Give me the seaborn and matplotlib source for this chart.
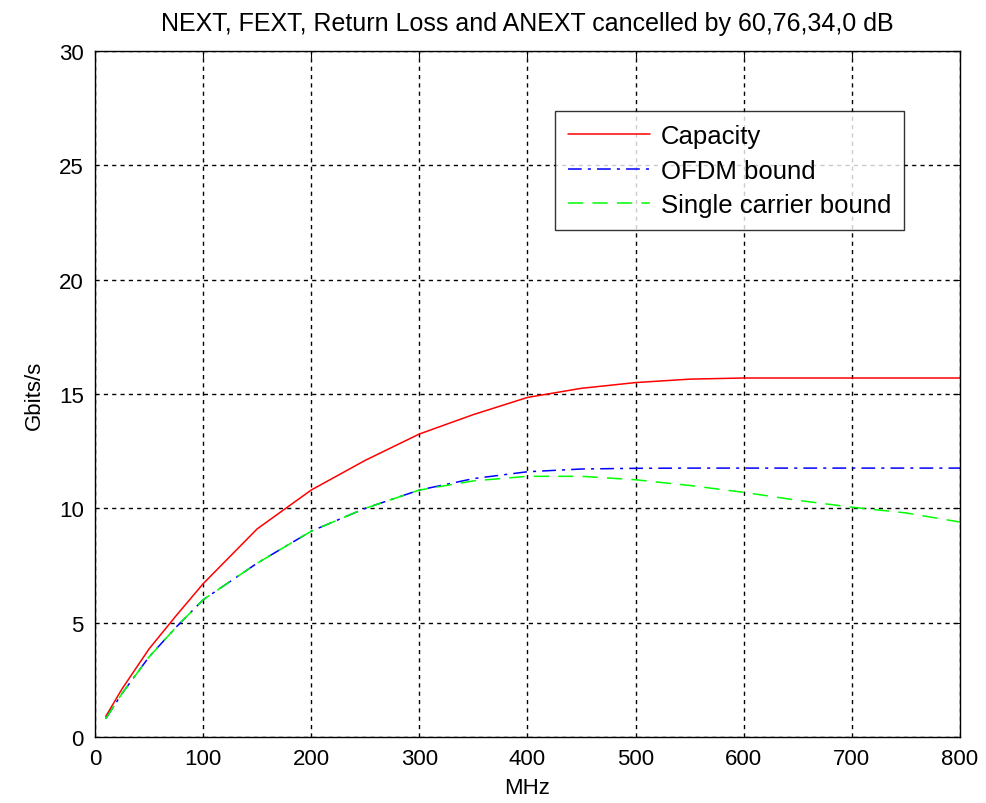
import numpy as np
import pandas as pd
import matplotlib
matplotlib.use('Agg')
import matplotlib.pyplot as plt
import seaborn as sns

# значения
mhz = [10, 25, 50, 75, 100, 150, 200, 250, 300, 350, 400, 450, 500, 550, 600, 650, 700, 750, 800]
capacity = [0.9, 2.1, 3.85, 5.3, 6.7, 9.1, 10.8, 12.1, 13.25, 14.1, 14.85, 15.25, 15.5, 15.65, 15.7, 15.7, 15.7, 15.7, 15.7]
ofdm = [0.8, 1.9, 3.5, 4.8, 6.0, 7.6, 9.0, 10.0, 10.8, 11.3, 11.6, 11.72, 11.75, 11.76, 11.76, 11.76, 11.76, 11.76, 11.76]
single = [0.8, 1.9, 3.5, 4.8, 6.0, 7.6, 9.0, 10.0, 10.8, 11.2, 11.4, 11.4, 11.25, 11.0, 10.7, 10.35, 10.05, 9.8, 9.4]

df = pd.DataFrame({'MHz': mhz, 'Capacity': capacity, 'OFDM bound': ofdm, 'Single carrier bound': single})

sns.set_style('white')
plt.rcParams['font.family'] = ['Liberation Sans', 'DejaVu Sans']
plt.rcParams['text.color'] = 'black'
plt.rcParams['axes.labelcolor'] = 'black'

fig = plt.figure(figsize=(9.86, 8.04), dpi=100)
ax = fig.add_axes([0.0963, 0.0821, 0.8773, 0.8532])

sns.lineplot(data=df, x='MHz', y='Capacity', color='red', lw=1.1, label='Capacity', ax=ax)
sns.lineplot(data=df, x='MHz', y='OFDM bound', color='blue', lw=1.1, label='OFDM bound', ax=ax)
sns.lineplot(data=df, x='MHz', y='Single carrier bound', color='#00ff00', lw=1.1, label='Single carrier bound', ax=ax)
ax.lines[1].set_dashes([9, 4, 2, 4])
ax.lines[2].set_dashes([10, 6])

ax.set_xlim(0, 800)
ax.set_ylim(0, 30)
ax.set_xticks(range(0, 801, 100))
ax.set_yticks(range(0, 31, 5))
ax.grid(True, color='black', linestyle=(0, (3, 3)), linewidth=1)
ax.tick_params(direction='in', top=True, right=True, length=5, labelsize=16, colors='black', pad=8)
for s in ax.spines.values():
    s.set_color('black')
    s.set_linewidth(1)
    s.set_visible(True)

ax.set_xlabel('MHz', fontsize=16, labelpad=6)
ax.set_ylabel('Gbits/s', fontsize=16, labelpad=10)
ax.set_title('NEXT, FEXT, Return Loss and ANEXT cancelled by 60,76,34,0 dB', fontsize=18, pad=15)

leg = ax.legend(loc='upper right', bbox_to_anchor=(0.935, 0.9125), borderaxespad=0,
                fontsize=18.5, frameon=True, fancybox=False, handlelength=3.2,
                labelspacing=0.42, borderpad=0.5, handletextpad=0.4)
leg.get_frame().set_edgecolor('black')
leg.get_frame().set_linewidth(1)

fig.savefig('out.png', dpi=100)
